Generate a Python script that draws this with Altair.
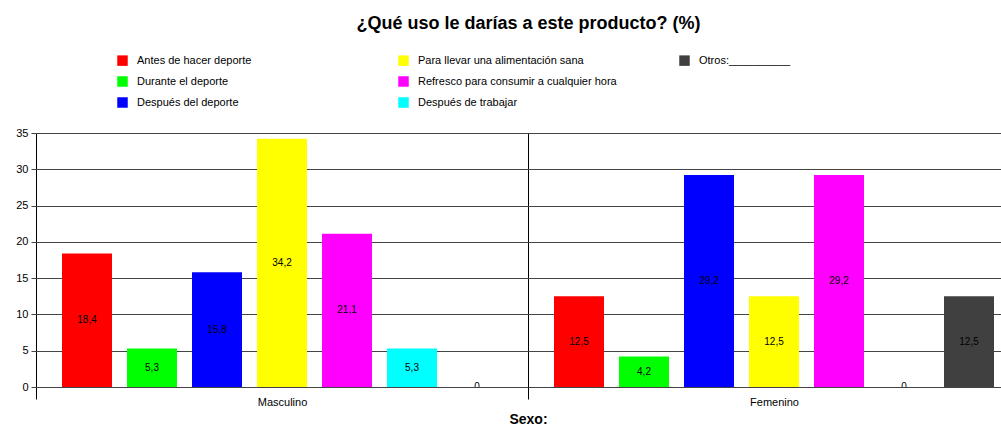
import altair as alt
import pandas as pd

sexos = ["Masculino", "Femenino"]
opciones = [
    "Antes de hacer deporte",
    "Durante el deporte",
    "Después del deporte",
    "Para llevar una alimentación sana",
    "Refresco para consumir a cualquier hora",
    "Después de trabajar",
    "Otros:__________",
]
masculino = [18.4, 5.3, 15.8, 34.2, 21.1, 5.3, 0]
femenino = [12.5, 4.2, 29.2, 12.5, 29.2, 0, 12.5]
colores = ["#FF0000", "#00FF00", "#0000FF", "#FFFF00", "#FF00FF", "#00FFFF", "#404040"]
y_ticks = [0, 5, 10, 15, 20, 25, 30, 35]

rows = []
for s, vals in zip(sexos, [masculino, femenino]):
    for o, v in zip(opciones, vals):
        rows.append({"sexo": s, "opcion": o, "valor": v})
df = pd.DataFrame(rows)

# legend laid out row-major in 3 columns; blanks fill empty cells
leg_order = [opciones[0], opciones[3], opciones[6],
             opciones[1], opciones[4], " ",
             opciones[2], opciones[5], "  "]
col_map = dict(zip(opciones, colores))
leg_colors = [col_map.get(k, "transparent") for k in leg_order]

FONT = "Liberation Sans"

x = alt.X(
    "sexo:N", sort=sexos,
    scale=alt.Scale(range=[0, 984], paddingInner=0, paddingOuter=0),
    axis=alt.Axis(title="Sexo:", labelAngle=0, tickBand="extent", grid=True,
                  gridColor="#000000", gridOpacity=1, tickColor="#000000", tickSize=12,
                  domain=False, labelFont=FONT, labelFontSize=11, labelColor="#000000",
                  labelPadding=-3, titleFont=FONT, titleFontSize=14, titleFontWeight="bold",
                  titleColor="#000000", titlePadding=5),
)
xo = alt.XOffset("opcion:N", sort=opciones,
                 scale=alt.Scale(domain=opciones, paddingInner=0.2308, paddingOuter=0.4))

y_axis = alt.Axis(values=y_ticks, title=None, grid=True, labelOverlap=False,
                  gridColor="#444444", gridOpacity=1, tickColor="#444444",
                  tickSize=5, domain=False, labelFont=FONT, labelFontSize=11,
                  labelColor="#000000", labelPadding=3)
y_scale = alt.Scale(domain=[0, 35], nice=False)

base = alt.Chart(df).encode(x=x, xOffset=xo)

bars = base.mark_bar(clip=True).encode(
    y=alt.Y("valor:Q", scale=y_scale, axis=y_axis),
    color=alt.Color("opcion:N",
                    scale=alt.Scale(domain=leg_order, range=leg_colors),
                    legend=alt.Legend(title=None, orient="none", legendX=81, legendY=-78,
                                      columns=3, direction="horizontal", gridAlign="all",
                                      columnPadding=62, rowPadding=9, symbolType="square",
                                      symbolSize=110, symbolStrokeWidth=0, labelOffset=9,
                                      labelFont=FONT, labelFontSize=11, labelColor="#000000",
                                      labelLimit=400, padding=0)),
)

labels = base.transform_calculate(
    mid="datum.valor / 2",
    lbl="datum.valor == 0 ? '0' : replace(format(datum.valor, '.1f'), '.', ',')",
).mark_text(fontSize=10, font=FONT, color="#000000", clip=True).encode(
    y=alt.Y("mid:Q", scale=y_scale, axis=y_axis), text="lbl:N"
)

chart = alt.layer(bars, labels).properties(
    width=965, height=254,
    title=alt.TitleParams("¿Qué uso le darías a este producto? (%)", font=FONT,
                          fontSize=18, fontWeight="bold", color="#000000",
                          anchor="middle", dx=10, offset=22),
    autosize=alt.AutoSizeParams(type="none"),
    padding={"left": 36, "top": 133, "right": 0, "bottom": 39},
).configure_view(stroke=None)

chart.save("out.html", embed_options={"renderer": "svg", "actions": False})
